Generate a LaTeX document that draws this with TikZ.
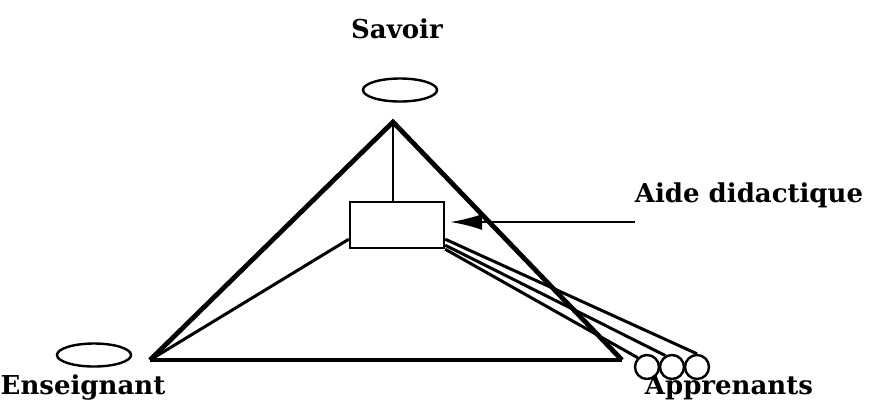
\documentclass[tikz,border=0pt]{standalone}
\usepackage{fontspec}
\setmainfont{DejaVu Serif}
\usetikzlibrary{arrows.meta, shapes.geometric, positioning}
\begin{document}
\begin{tikzpicture}[x=0.5pt,y=-0.5pt,>={Latex[length=16pt,width=8pt]},
 every node/.style={font=\bfseries\fontsize{13}{15}\selectfont},
 pole/.style={ellipse,draw,line width=1.2pt,minimum width=37pt,minimum height=11.5pt,inner sep=0pt},
 learner/.style={circle,draw,line width=1.2pt,fill=white,minimum size=12pt,inner sep=0pt},
 aidebox/.style={rectangle,draw,line width=1.2pt,minimum width=47pt,minimum height=23pt,inner sep=0pt},
 side/.style={line width=2.4pt,line join=miter},
 base/.style={line width=1.8pt},
 link/.style={line width=1.5pt}]
 \useasboundingbox (0,0) rectangle (878,403);
 % poles of the triangle
 \coordinate (S) at (393,122);
 \coordinate (E) at (150,360);
 \coordinate (A) at (622,360);
 \node[pole] (sav) at (400,90) {};
 \node[pole] (ens) at (94,355) {};
 \node[aidebox] (aide) at (397,225) {};
 \draw[side] (E) -- (S) -- (A);
 \draw[base] (E) -- (A);
 \draw[line width=1.2pt] (S) -- (S |- aide.north);
 \draw[link] ([yshift=5pt]aide.south west) -- (E);
 % the learners
 \node[learner] (c1) at (647,367) {};
 \node[learner] (c2) at (672,367) {};
 \node[learner] (c3) at (697,367) {};
 \draw[link] (aide.south east) -- (c1.135);
 \draw[link] ([yshift=2pt]aide.south east) -- (c2.120);
 \draw[link] ([yshift=5pt]aide.south east) -- (c3.north);
 \coordinate (tail) at (635,222);
 \draw[->,line width=1.2pt] (tail) -- ([xshift=2.5pt,yshift=1.5pt]aide.east);
 % labels
 \node (savoir) at (397,29) {Savoir};
 \node (didac) at (749,195) {Aide didactique};
 \node (enseig) at (83,388) {Enseignant};
 \node (appren) at (729,388) {Apprenants};
\end{tikzpicture}
\end{document}
